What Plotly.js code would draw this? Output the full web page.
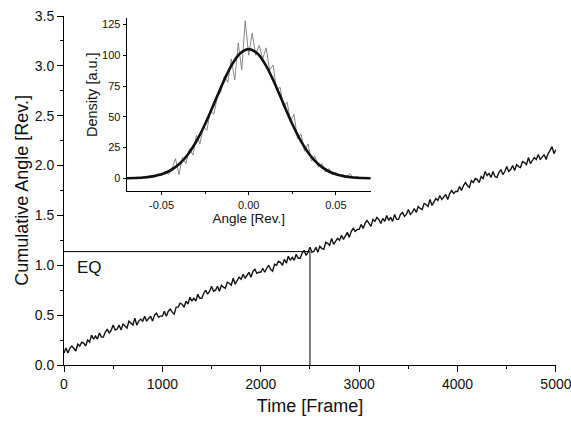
<!DOCTYPE html>
<html>
<head>
<meta charset="utf-8">
<script src="https://cdn.plot.ly/plotly-3.0.1.min.js"></script>
<style>html,body{margin:0;padding:0;background:#fff}#chart{width:571px;height:421px}</style>
</head>
<body>
<div id="chart"></div>
<script>
// Main trace: cumulative angle sampled every 20 frames
const frameStep = 20;
const cumAngle = [
0.12,0.17,0.12,0.17,0.19,0.16,0.14,0.21,0.19,0.23,
0.22,0.19,0.25,0.23,0.30,0.26,0.29,0.26,0.32,0.28,
0.28,0.33,0.36,0.32,0.35,0.40,0.35,0.36,0.40,0.35,
0.41,0.39,0.37,0.44,0.42,0.40,0.47,0.40,0.44,0.46,
0.44,0.49,0.44,0.47,0.49,0.44,0.50,0.52,0.48,0.49,
0.49,0.54,0.49,0.54,0.56,0.53,0.51,0.58,0.58,0.62,
0.61,0.58,0.64,0.61,0.68,0.64,0.67,0.64,0.71,0.67,
0.67,0.72,0.75,0.71,0.74,0.79,0.74,0.75,0.79,0.74,
0.80,0.78,0.77,0.83,0.82,0.80,0.87,0.81,0.85,0.88,
0.86,0.91,0.87,0.90,0.93,0.88,0.94,0.96,0.92,0.93,
0.93,0.97,0.93,0.97,1.00,0.96,0.94,1.01,1.00,1.04,
1.03,1.00,1.06,1.02,1.09,1.05,1.08,1.05,1.11,1.07,
1.07,1.12,1.15,1.10,1.13,1.18,1.13,1.14,1.18,1.13,
1.19,1.17,1.16,1.23,1.22,1.20,1.27,1.21,1.24,1.27,
1.25,1.30,1.26,1.30,1.33,1.28,1.34,1.37,1.34,1.36,
1.36,1.41,1.37,1.42,1.45,1.42,1.39,1.46,1.44,1.48,
1.46,1.42,1.47,1.44,1.50,1.45,1.48,1.44,1.51,1.46,
1.46,1.51,1.53,1.49,1.51,1.56,1.51,1.53,1.57,1.53,
1.59,1.57,1.56,1.62,1.61,1.59,1.66,1.60,1.64,1.67,
1.65,1.70,1.66,1.68,1.71,1.66,1.72,1.75,1.72,1.74,
1.74,1.79,1.75,1.80,1.83,1.80,1.78,1.85,1.83,1.87,
1.86,1.83,1.89,1.87,1.94,1.90,1.92,1.88,1.94,1.89,
1.88,1.93,1.96,1.91,1.94,1.99,1.94,1.96,2.00,1.95,
2.01,1.99,1.98,2.04,2.03,2.01,2.08,2.02,2.05,2.08,
2.06,2.11,2.06,2.09,2.11,2.06,2.12,2.15,2.19,2.12,
2.16
];
const frames = cumAngle.map((_, i) => i * frameStep);

// EQ marker lines
const eqX = [0, 2500, 2500];
const eqY = [1.137, 1.137, 0];
const eqLabel = "EQ";

// Inset: angle histogram (density) and Gaussian fit
const histStep = 0.002, histStart = -0.070;
const histDensity = [
0,0.5,0,1,0.5,1.5,0.5,2,1,4,
2,6,3,8,16,3,17,12,24,19,
35,28,42,39,55,52,66,70,83,78,
97,80,110,88,128,100,118,100,108,97,
106,88,92,72,74,58,62,47,52,32,
36,22,28,14,18,9,12,5,8,3,
5,2,3,1,4,0.5,1.5,0,0.5,0,
0.3
];
const histAngle = histDensity.map((_, i) => +(histStart + i * histStep).toFixed(3));

const fitAngle = [-0.070,-0.065,-0.060,-0.055,-0.050,-0.045,-0.040,-0.035,-0.030,-0.025,-0.020,-0.015,-0.010,-0.005,0.000,
0.005,0.010,0.015,0.020,0.025,0.030,0.035,0.040,0.045,0.050,0.055,0.060,0.065,0.070];
const fitDensity = [0.1,0.3,0.7,1.6,3.3,6.4,11.4,19.2,30.2,44.2,60.3,76.9,91.4,101.4,105,
101.4,91.4,76.9,60.3,44.2,30.2,19.2,11.4,6.4,3.3,1.6,0.7,0.3,0.1];

const mainXTicks = [0,1000,2000,3000,4000,5000];
const mainYTicks = [0,0.5,1,1.5,2,2.5,3,3.5];
const insetXTicks = [-0.05,0,0.05];
const insetXLabels = ["-0.05","0.00","0.05"];
const insetYTicks = [0,25,50,75,100,125];

const FONT = "Liberation Sans, Arial, Helvetica, sans-serif";

const traces = [
  {x: frames, y: cumAngle, xaxis:'x', yaxis:'y', type:'scatter', mode:'lines',
   line:{color:'#141414', width:1.4}, hoverinfo:'none'},
  {x: eqX, y: eqY, xaxis:'x', yaxis:'y', type:'scatter', mode:'lines',
   line:{color:'#000', width:1}, hoverinfo:'none'},
  {x: histAngle, y: histDensity, xaxis:'x2', yaxis:'y2', type:'scatter', mode:'lines',
   line:{color:'#7a7a7a', width:0.9}, hoverinfo:'none'},
  {x: fitAngle, y: fitDensity, xaxis:'x2', yaxis:'y2', type:'scatter', mode:'lines',
   line:{color:'#111', width:2.6, shape:'spline'}, hoverinfo:'none'}
];

const axisCommon = {showgrid:false, zeroline:false, showline:true, linecolor:'#000', linewidth:1,
  ticks:'outside', tickcolor:'#000', tickwidth:1, mirror:false, fixedrange:true, ticklabeloverflow:'allow'};

const layout = {
  width:571, height:421,
  margin:{l:64, r:15, t:16, b:56, pad:0},
  paper_bgcolor:'#fff', plot_bgcolor:'rgba(0,0,0,0)',
  showlegend:false,
  font:{family:FONT, color:'#111'},
  xaxis: Object.assign({}, axisCommon, {
    domain:[0,1], range:[0,5000.5], anchor:'y',
    tickmode:'array', tickvals:mainXTicks, ticklen:6,
    tickfont:{size:14, family:FONT, color:'#111'},
    minor:{dtick:500, tick0:0, ticklen:3, ticks:'outside', tickcolor:'#000', showgrid:false},
    title:{text:'Time [Frame]', font:{size:18, family:FONT, color:'#111'}, standoff:8}
  }),
  yaxis: Object.assign({}, axisCommon, {
    domain:[0,1], range:[0,3.5], anchor:'x',
    tickmode:'array', tickvals:mainYTicks, tickformat:'.1f', ticklen:6,
    tickfont:{size:14, family:FONT, color:'#111'},
    minor:{dtick:0.25, tick0:0, ticklen:3, ticks:'outside', tickcolor:'#000', showgrid:false},
    title:{text:'Cumulative Angle [Rev.]', font:{size:18, family:FONT, color:'#111'}, standoff:1}
  }),
  xaxis2: Object.assign({}, axisCommon, {
    domain:[0.1274,0.6234], range:[-0.07,0.07], anchor:'y2',
    tickmode:'array', tickvals:insetXTicks, ticktext:insetXLabels, ticklen:3,
    tickfont:{size:11, family:FONT, color:'#111'},
    minor:{dtick:0.025, tick0:0, ticklen:2, ticks:'outside', tickcolor:'#000', showgrid:false},
    title:{text:'Angle [Rev.]', font:{size:13.5, family:FONT, color:'#111'}, standoff:4}
  }),
  yaxis2: Object.assign({}, axisCommon, {
    domain:[0.4977,0.9934], range:[-10.5,130], anchor:'x2',
    tickmode:'array', tickvals:insetYTicks, ticklen:3,
    tickfont:{size:11, family:FONT, color:'#111'}
  }),
  annotations:[
    {text:eqLabel, xref:'x', yref:'y', x:110, y:0.98, xanchor:'left', yanchor:'middle',
     showarrow:false, font:{size:17, family:FONT, color:'#111'}},
    {text:'Density [a.u.]', xref:'paper', yref:'paper', x:0.0569, y:0.7765, textangle:-90,
     xanchor:'center', yanchor:'middle', showarrow:false, font:{size:14.5, family:FONT, color:'#111'}}
  ]
};

Plotly.newPlot('chart', traces, layout, {staticPlot:true, displayModeBar:false});
</script>
</body>
</html>
